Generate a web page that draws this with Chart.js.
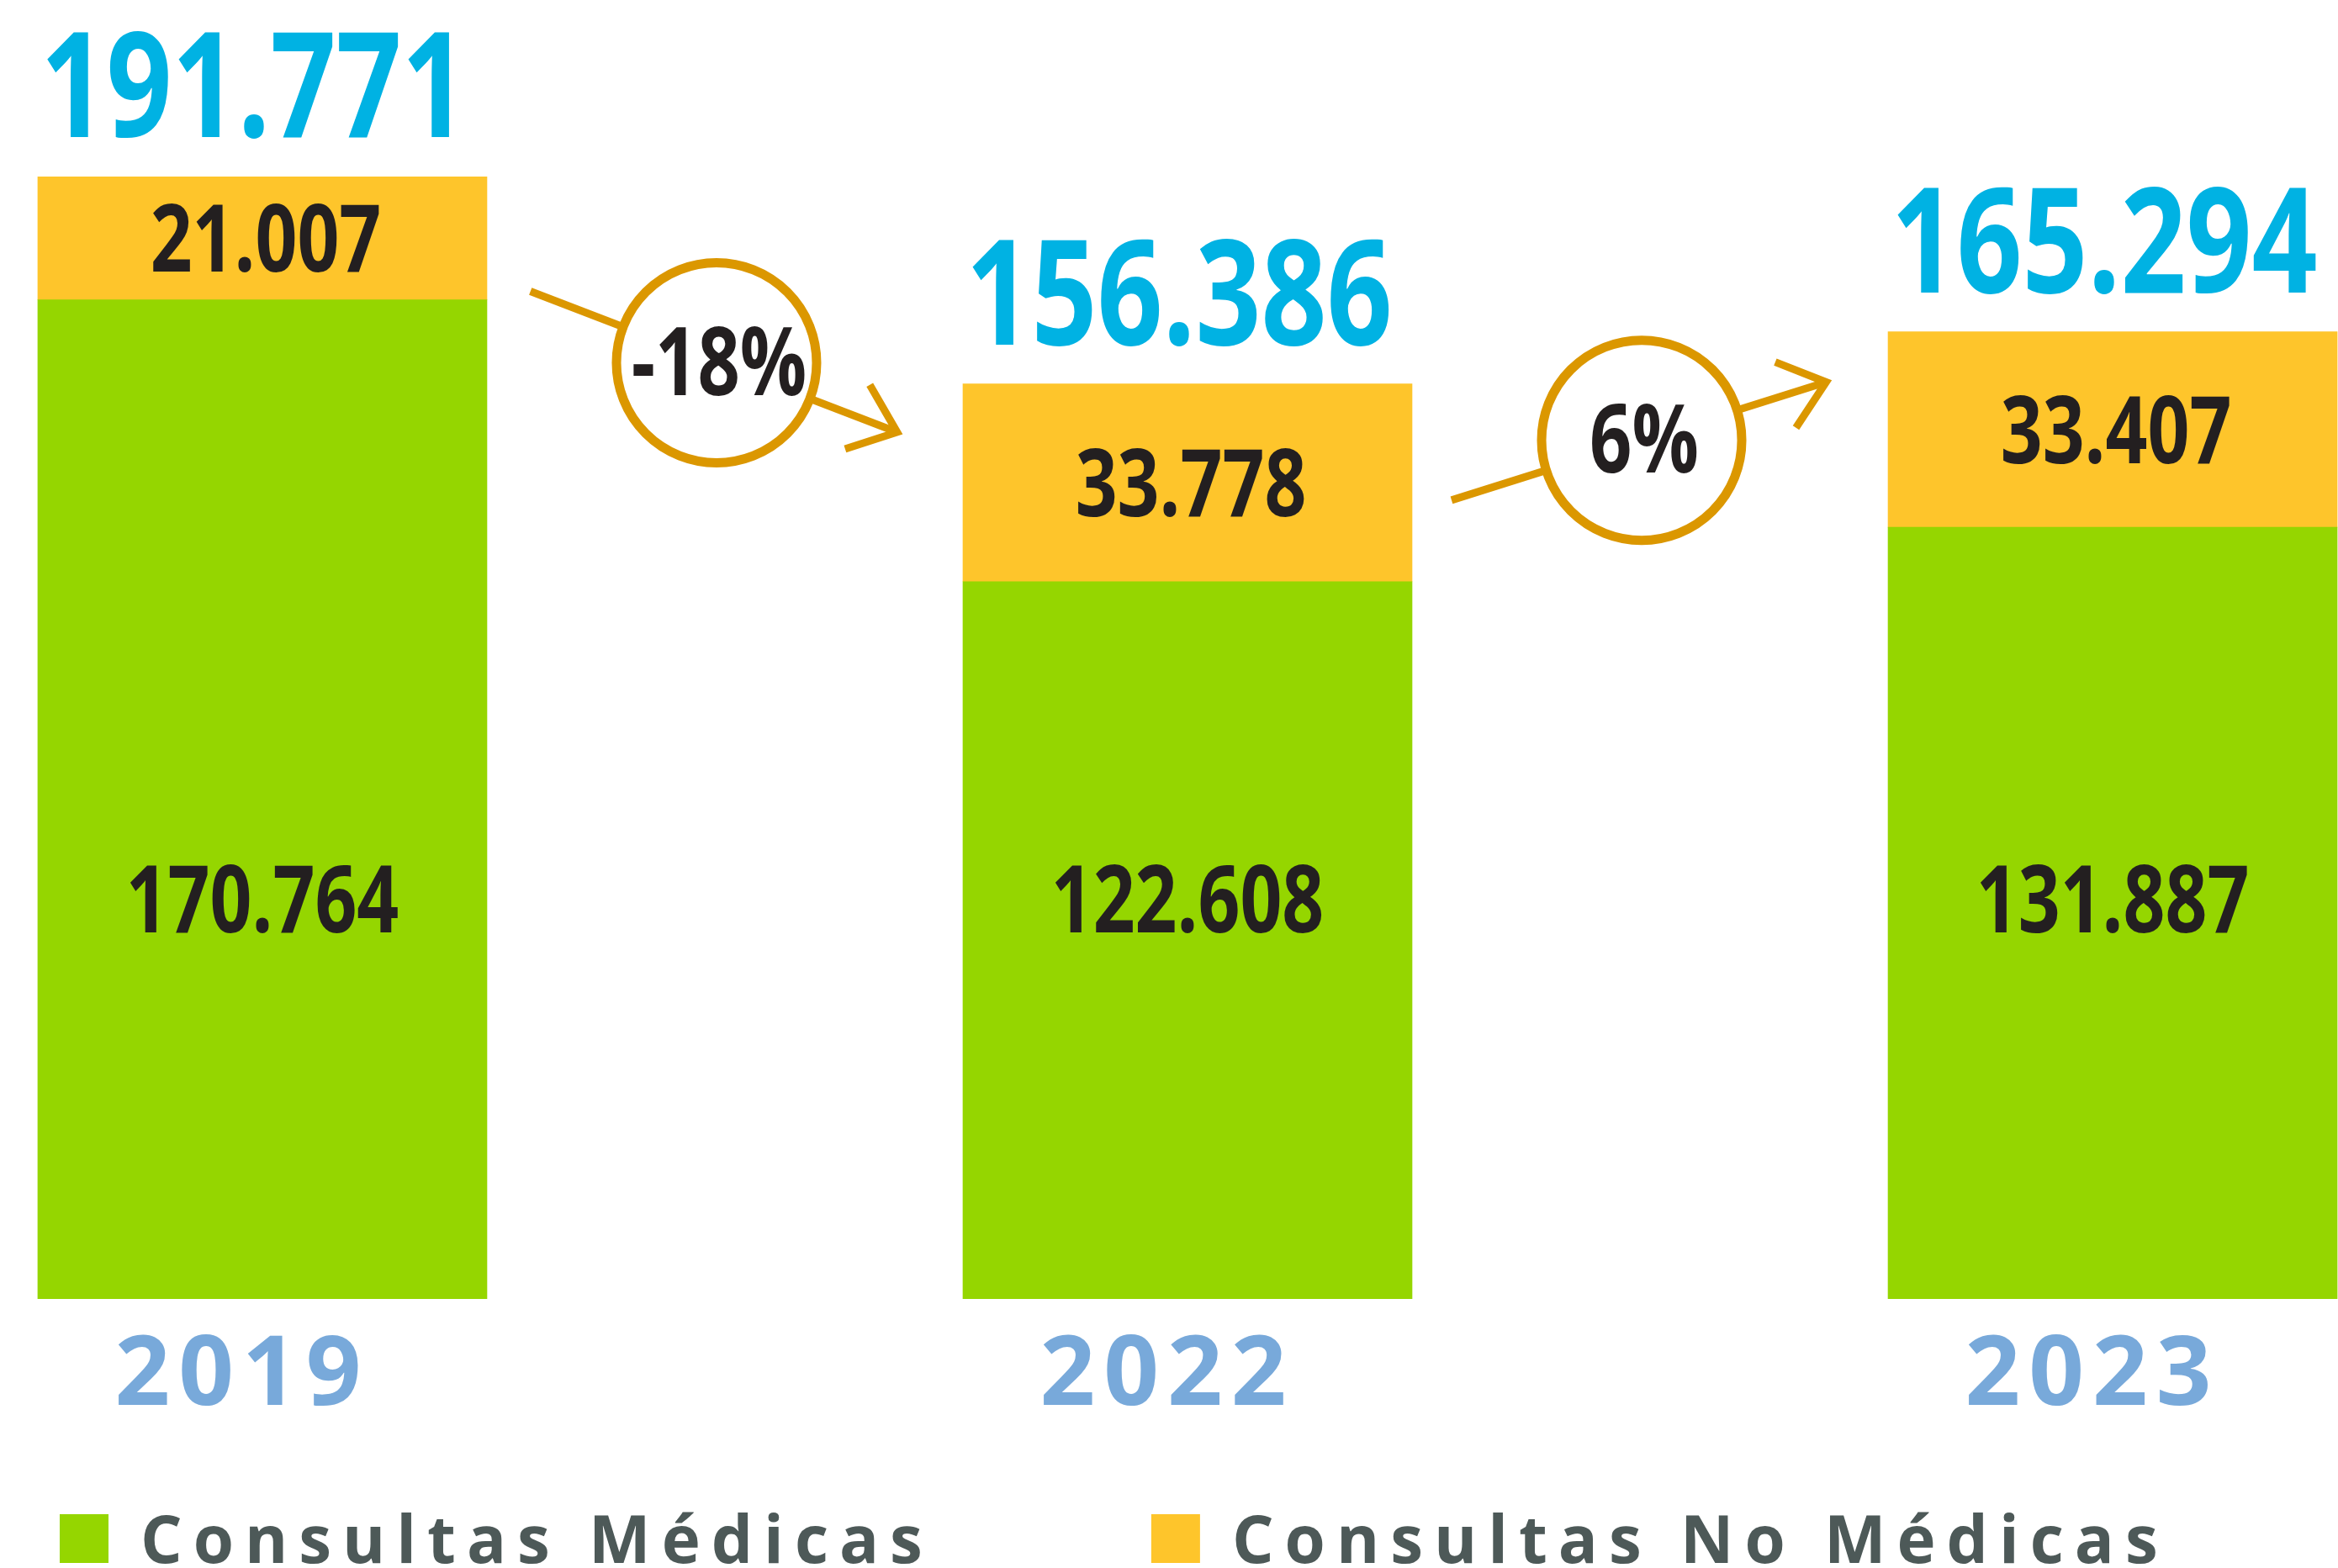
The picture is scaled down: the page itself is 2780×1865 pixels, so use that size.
<!DOCTYPE html>
<html>
<head>
<meta charset="utf-8">
<script src="https://cdn.jsdelivr.net/npm/chart.js@4.4.1/dist/chart.umd.min.js"></script>
<style>
  html, body { margin: 0; padding: 0; background: #fff; overflow: hidden; }
  canvas { display: block; }
</style>
</head>
<body>
<canvas id="consultas" width="2780" height="1865"></canvas>
<script>
// data
const years = ['2019', '2022', '2023'];
const medicas = [170764, 122608, 131887];
const noMedicas = [21007, 33778, 33407];
const changes = ['-18%', '6%'];
const seriesNames = ['Consultas Médicas', 'Consultas No Médicas'];
const seriesColors = ['#95d600', '#fec52b'];

const FONT = "'Open Sans', 'Noto Sans', 'DejaVu Sans Condensed', sans-serif";
const SQUEEZE = 0.78; // the original uses a condensed face

function fmt(n) {
    return String(n).replace(/\B(?=(\d{3})+(?!\d))/g, '.');
}

// centred, horizontally squeezed text; y = visible middle (or baseline if base is true)
function squeezed(ctx, text, x, y, base) {
    const m = ctx.measureText(text);
    const by = base ? y : y + (m.actualBoundingBoxAscent - m.actualBoundingBoxDescent) / 2;
    ctx.save();
    ctx.translate(x, by);
    ctx.scale(SQUEEZE, 1);
    ctx.fillText(text, 0, 0);
    ctx.restore();
}

const overlay = {
    id: 'overlay',
    afterDatasetsDraw(chart) {
        const ctx = chart.ctx;
        const ys = chart.scales.y;
        const green = chart.getDatasetMeta(0).data;
        const orange = chart.getDatasetMeta(1).data;

        ctx.save();
        ctx.letterSpacing = '0px';
        ctx.textAlign = 'center';
        ctx.textBaseline = 'alphabetic';

        green.forEach((bar, i) => {
            const top = orange[i];
            ctx.fillStyle = '#231f20';
            ctx.font = 'bold 112px ' + FONT;
            squeezed(ctx, fmt(medicas[i]), bar.x, ys.getPixelForValue(68400));
            squeezed(ctx, fmt(noMedicas[i]), top.x + 4, (top.y + top.base) / 2);

            // total on top of the stack
            ctx.font = 'bold 175px ' + FONT;
            ctx.fillStyle = '#00b2e3';
            const total = fmt(medicas[i] + noMedicas[i]);
            const w = ctx.measureText(total).width * SQUEEZE;
            const tx = Math.min(top.x - 10, chart.width - 22 - w / 2);
            squeezed(ctx, total, tx, top.y - 47, true);
        });

        // change arrows between the years
        changes.forEach((label, i) => {
            const a = orange[i], b = orange[i + 1];
            const cx = (a.x + b.x) / 2 - 10;
            const cy = (a.y + b.y) / 2 + 98;
            const ang = (label.startsWith('-') ? 21 : -17.5) * Math.PI / 180;
            const dx = Math.cos(ang), dy = Math.sin(ang);
            const tipX = cx + 230 * dx, tipY = cy + 230 * dy;

            ctx.strokeStyle = '#db9700';
            ctx.lineWidth = 9;
            ctx.lineJoin = 'miter';
            ctx.beginPath();
            ctx.moveTo(cx - 237 * dx, cy - 237 * dy);
            ctx.lineTo(tipX, tipY);
            ctx.stroke();

            const back = ang + Math.PI;
            const arm = 39 * Math.PI / 180;
            ctx.beginPath();
            ctx.moveTo(tipX + 65 * Math.cos(back + arm), tipY + 65 * Math.sin(back + arm));
            ctx.lineTo(tipX, tipY);
            ctx.lineTo(tipX + 65 * Math.cos(back - arm), tipY + 65 * Math.sin(back - arm));
            ctx.stroke();

            ctx.beginPath();
            ctx.arc(cx, cy, 119, 0, Math.PI * 2);
            ctx.fillStyle = '#ffffff';
            ctx.fill();
            ctx.lineWidth = 11;
            ctx.stroke();

            ctx.fillStyle = '#231f20';
            ctx.font = 'bold 113px ' + FONT;
            squeezed(ctx, label, cx + 3, cy - 2);
        });
        ctx.restore();

        // spaced digits for the year ticks, drawn after this hook (ticks z = 1)
        ctx.letterSpacing = '10px';
    },
    afterDraw(chart) {
        const ctx = chart.ctx;
        ctx.letterSpacing = '0px';
        ctx.save();
        ctx.font = 'bold 78px ' + FONT;
        ctx.letterSpacing = '13px';
        ctx.textAlign = 'left';
        ctx.textBaseline = 'alphabetic';
        let x = 71;
        chart.data.datasets.forEach(ds => {
            ctx.fillStyle = ds.backgroundColor;
            ctx.fillRect(x, 1801, 58, 58);
            ctx.fillStyle = '#4d5958';
            ctx.fillText(ds.label, x + 96, 1859);
            x += 96 + ctx.measureText(ds.label).width + 259;
        });
        ctx.restore();
    }
};

new Chart(document.getElementById('consultas'), {
    type: 'bar',
    data: {
        datasets: [
            {
                label: seriesNames[0],
                data: medicas.map((v, i) => ({ x: i, y: v })),
                backgroundColor: seriesColors[0]
            },
            {
                label: seriesNames[1],
                data: noMedicas.map((v, i) => ({ x: i, y: v })),
                backgroundColor: seriesColors[1]
            }
        ]
    },
    options: {
        responsive: false,
        animation: false,
        devicePixelRatio: 1,
        datasets: { bar: { barThickness: 534, borderWidth: 0 } },
        layout: { padding: 0 },
        plugins: {
            legend: { display: false },
            tooltip: { enabled: false }
        },
        scales: {
            x: {
                type: 'linear',
                stacked: true,
                offset: false,
                bounds: 'data',
                min: -0.2836,
                max: 2.2436,
                grid: { display: false, offset: false },
                border: { display: false },
                afterBuildTicks: s => { s.ticks = years.map((y, i) => ({ value: i })); },
                afterFit: s => { s.height = 320; },
                ticks: {
                    z: 1,
                    padding: 28,
                    labelOffset: -24,
                    autoSkip: false,
                    maxRotation: 0,
                    color: '#78a9da',
                    font: { family: FONT, size: 115, weight: 'bold', lineHeight: 1 },
                    callback: v => years[v]
                }
            },
            y: {
                display: false,
                stacked: true,
                min: 0,
                max: 222000
            }
        }
    },
    plugins: [overlay]
});
</script>
</body>
</html>
